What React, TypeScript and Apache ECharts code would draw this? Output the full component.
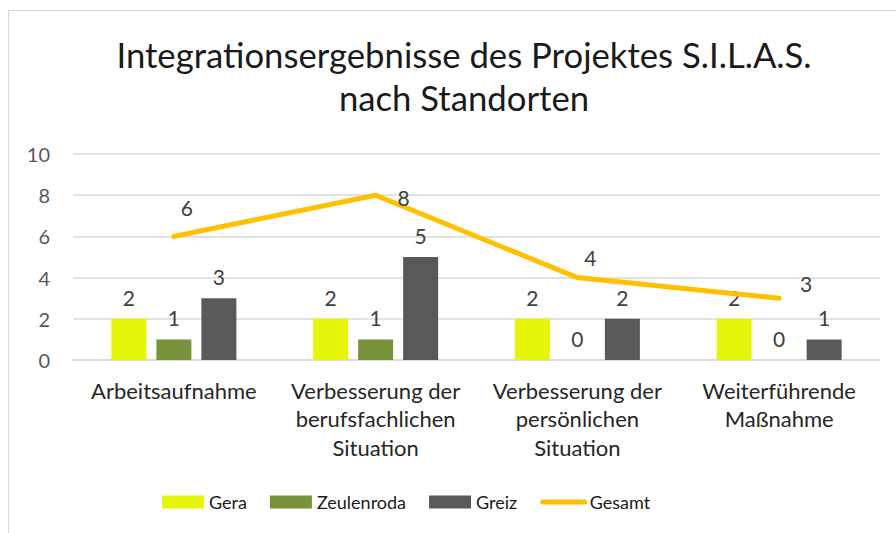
import React, { useEffect, useRef } from "react";
import * as echarts from "echarts";

const categories = [
  "Arbeitsaufnahme",
  "Verbesserung der\nberufsfachlichen\nSituation",
  "Verbesserung der\npersönlichen\nSituation",
  "Weiterführende\nMaßnahme",
];
const gera = [2, 2, 2, 2];
const zeulenroda = [1, 1, 0, 0];
const greiz = [3, 5, 2, 1];
const gesamt = [6, 8, 4, 3];
const yTicks = { min: 0, max: 10, interval: 2 };

const lineLabelOffsets: [number, number][] = [
  [13, -29],
  [28, 2],
  [13, -20],
  [27, -15],
];

const FONT = "Lato";

export default function App() {
  const ref = useRef<HTMLDivElement>(null);
  useEffect(() => {
    if (!ref.current) return;
    const chart = echarts.init(ref.current, undefined, { renderer: "svg" });
    const barLabel = {
      show: true,
      position: "top" as const,
      distance: 11,
      fontFamily: FONT,
      fontSize: 21,
      color: "#404040",
    };
    chart.setOption({
      animation: false,
      backgroundColor: "#ffffff",
      title: {
        text: "Integrationsergebnisse des Projektes S.I.L.A.S.\nnach Standorten",
        left: 459,
        top: 28,
        textAlign: "center",
        textStyle: {
          fontFamily: FONT,
          fontSize: 34.7,
          fontWeight: "normal",
          color: "#1a1a1a",
          lineHeight: 43,
        },
      },
      graphic: [
        {
          type: "rect",
          shape: { x: 8.5, y: 10.5, width: 1000, height: 1000 },
          style: { fill: "none", stroke: "#d9d9d9", lineWidth: 1 },
          silent: true,
          z: -1,
        },
      ],
      legend: {
        left: 157,
        top: 488,
        itemWidth: 42,
        itemHeight: 13,
        itemGap: 23,
        textStyle: { fontFamily: FONT, fontSize: 18, color: "#1a1a1a" },
        data: [
          { name: "Gera", icon: "rect" },
          { name: "Zeulenroda", icon: "rect" },
          { name: "Greiz", icon: "rect" },
          {
            name: "Gesamt",
            itemStyle: { opacity: 0 },
            lineStyle: { width: 5, cap: "round", color: "#ffc000" },
          },
        ],
      },
      grid: { left: 73, right: 16, top: 154, bottom: 173 },
      xAxis: {
        type: "category",
        data: categories,
        axisLine: { lineStyle: { color: "#d9d9d9", width: 1.5 } },
        axisTick: { show: false },
        axisLabel: {
          fontFamily: FONT,
          fontSize: 22,
          color: "#262626",
          lineHeight: 28.5,
          margin: 16,
          interval: 0,
        },
      },
      yAxis: {
        type: "value",
        min: yTicks.min,
        max: yTicks.max,
        interval: yTicks.interval,
        axisLine: { show: false },
        axisTick: { show: false },
        splitLine: { lineStyle: { color: "#d9d9d9", width: 1.5 } },
        axisLabel: {
          fontFamily: FONT,
          fontSize: 20,
          color: "#595959",
          margin: 23,
        },
      },
      series: [
        {
          name: "Gera",
          type: "bar",
          data: gera,
          barWidth: 35,
          barGap: "28.6%",
          itemStyle: { color: "#e6f60a" },
          label: barLabel,
        },
        {
          name: "Zeulenroda",
          type: "bar",
          data: zeulenroda,
          barWidth: 35,
          barGap: "28.6%",
          itemStyle: { color: "#77933c" },
          label: barLabel,
        },
        {
          name: "Greiz",
          type: "bar",
          data: greiz,
          barWidth: 35,
          barGap: "28.6%",
          itemStyle: { color: "#595959" },
          label: barLabel,
        },
        {
          name: "Gesamt",
          type: "line",
          data: gesamt.map((v, i) => ({
            value: v,
            label: { offset: lineLabelOffsets[i] },
          })),
          symbol: "circle",
          symbolSize: 1,
          itemStyle: { color: "#ffc000" },
          lineStyle: { color: "#ffc000", width: 5, cap: "round" },
          label: {
            show: true,
            position: "inside",
            fontFamily: FONT,
            fontSize: 21,
            color: "#404040",
          },
          z: 5,
        },
      ],
    });
    return () => chart.dispose();
  }, []);
  return (
    <div
      ref={ref}
      style={{ position: "absolute", left: 0, top: 0, width: 896, height: 533 }}
    />
  );
}
